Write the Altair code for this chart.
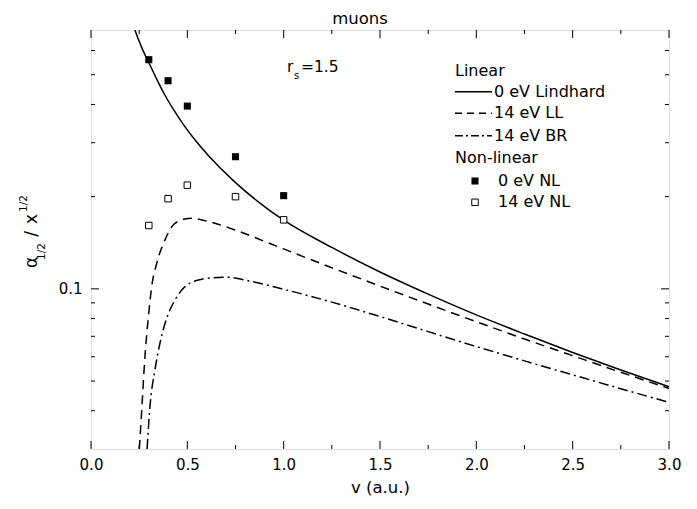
import altair as alt
import pandas as pd

W, H = 578, 419
FONT = "DejaVu Sans"

# ---- data ----
v_lind = [0.228, 0.25, 0.272, 0.303, 0.341, 0.384, 0.427, 0.479, 0.531, 0.609, 0.75, 0.87, 1.0,
          1.25, 1.5, 1.75, 2.0, 2.25, 2.5, 2.75, 3.0]
a_lind = [0.70, 0.643, 0.596, 0.543, 0.484, 0.4286, 0.386, 0.3444, 0.3112, 0.2727, 0.2223, 0.192, 0.1675,
          0.1365, 0.1135, 0.0961, 0.0822, 0.0712, 0.0620, 0.0543, 0.0479]

v_ll = [0.251, 0.263, 0.28, 0.298, 0.315, 0.341, 0.384, 0.427, 0.488, 0.52, 0.592, 0.747, 0.903,
        1.0, 1.25, 1.5, 1.75, 2.0, 2.25, 2.5, 2.75, 3.0]
a_ll = [0.03, 0.0398, 0.0601, 0.0812, 0.1017, 0.121, 0.1445, 0.1617, 0.169, 0.170, 0.167, 0.1557, 0.1427,
        0.1350, 0.1172, 0.1021, 0.0892, 0.0781, 0.0686, 0.0605, 0.0534, 0.0473]

v_br = [0.291, 0.306, 0.332, 0.358, 0.393, 0.436, 0.488, 0.575, 0.695, 0.834, 1.0, 1.25, 1.5,
        1.75, 2.0, 2.25, 2.5, 2.75, 3.0]
a_br = [0.03, 0.0413, 0.0544, 0.0665, 0.0802, 0.092, 0.1017, 0.1075, 0.1092, 0.1057, 0.0997, 0.0905, 0.0812,
        0.0725, 0.0648, 0.0582, 0.0524, 0.0472, 0.0426]

v_nl0 = [0.3, 0.4, 0.5, 0.75, 1.0]
a_nl0 = [0.560, 0.478, 0.395, 0.270, 0.2015]
v_nl14 = [0.3, 0.4, 0.5, 0.75, 1.0]
a_nl14 = [0.161, 0.197, 0.218, 0.200, 0.168]

x_major = [0.0, 0.5, 1.0, 1.5, 2.0, 2.5, 3.0]
x_minor = [0.25, 0.75, 1.25, 1.75, 2.25, 2.75]
y_major = [0.1]
y_minor = [0.04, 0.05, 0.06, 0.07, 0.08, 0.09, 0.2, 0.3, 0.4, 0.5, 0.6]

title_text = ["muons"]
x_title = "v (a.u.)"
y_title_parts = ["\u03b1", "1/2", "/", "x", "1/2"]
rs_parts = ["r", "s", "=1.5"]
legend_head = ["Linear", "Non-linear"]
legend_lines = ["0 eV Lindhard", "14 eV LL", "14 eV BR"]
legend_points = ["0 eV NL", "14 eV NL"]

# ---- encodings ----
X = alt.X("v:Q", scale=alt.Scale(domain=[0, 3], nice=False, zero=False),
          axis=alt.Axis(values=x_major, format=".1f", ticks=False, domain=False, grid=False,
                        labelFlush=False, labelFont=FONT, labelFontSize=15, labelColor="black",
                        labelPadding=8,
                        title=x_title, titleFont=FONT, titleFontSize=16.5, titleFontWeight="normal",
                        titleColor="black", titlePadding=7))
Y = alt.Y("a:Q", scale=alt.Scale(type="log", domain=[0.03, 0.7], nice=False),
          axis=alt.Axis(values=y_major, format=".1f", ticks=False, domain=False, grid=False,
                        labelFlush=False, labelFont=FONT, labelFontSize=15, labelColor="black",
                        labelPadding=9, title=None))

def df(v, a):
    return pd.DataFrame({"v": v, "a": a})

lw = 1.5
lind = alt.Chart(df(v_lind, a_lind)).mark_line(color="black", strokeWidth=lw, clip=True,
                                                interpolate="monotone").encode(x=X, y=Y)
ll = alt.Chart(df(v_ll, a_ll)).mark_line(color="black", strokeWidth=lw, clip=True,
                                          interpolate="monotone", strokeDash=[9, 6]).encode(x=X, y=Y)
br = alt.Chart(df(v_br, a_br)).mark_line(color="black", strokeWidth=lw, clip=True,
                                          interpolate="monotone", strokeDash=[10, 4, 2, 4]).encode(x=X, y=Y)
nl0 = alt.Chart(df(v_nl0, a_nl0)).mark_point(shape="square", filled=True, color="black",
                                             size=50, opacity=1).encode(x=X, y=Y)
nl14 = alt.Chart(df(v_nl14, a_nl14)).mark_point(shape="square", filled=True, fill="white",
                                               stroke="black", strokeWidth=1, size=42,
                                               opacity=1).encode(x=X, y=Y)

# ---- inward ticks ----
def xticks(vals, length):
    d = pd.DataFrame({"v": vals})
    bot = alt.Chart(d).mark_rule(color="black", strokeWidth=1).encode(
        x=X, y=alt.value(H), y2=alt.value(H - length))
    top = alt.Chart(d).mark_rule(color="black", strokeWidth=1).encode(
        x=X, y=alt.value(0), y2=alt.value(length))
    return [bot, top]

def yticks(vals, length):
    d = pd.DataFrame({"a": vals})
    left = alt.Chart(d).mark_rule(color="black", strokeWidth=1).encode(
        y=Y, x=alt.value(0), x2=alt.value(length))
    right = alt.Chart(d).mark_rule(color="black", strokeWidth=1).encode(
        y=Y, x=alt.value(W), x2=alt.value(W - length))
    return [left, right]

ticks = xticks(x_major, 8) + xticks(x_minor, 4) + yticks(y_major, 8) + yticks(y_minor, 4)

# ---- texts ----
def txt(s, x, y, size, angle=0, align="left", baseline="alphabetic"):
    kw = dict(font=FONT, fontSize=size, color="black", align=align, baseline=baseline)
    if angle:
        kw["angle"] = angle
    return alt.Chart(pd.DataFrame({"t": [s]})).mark_text(**kw).encode(
        text="t:N", x=alt.value(x), y=alt.value(y))

texts = [
    txt(title_text[0], 269, -6.5, 16.5, align="center"),
    # y title (rotated, read bottom to top)
    txt(y_title_parts[0], -54, 238, 17, angle=270),
    txt(y_title_parts[1], -46, 230, 10.5, angle=270),
    txt(y_title_parts[2], -54, 204, 17, angle=270, align="center"),
    txt(y_title_parts[3], -54, 189, 17, angle=270, align="center"),
    txt(y_title_parts[4], -64, 182, 10.5, angle=270),
    # r_s annotation
    txt(rs_parts[0], 196, 42, 15.5),
    txt(rs_parts[1], 203, 49, 10),
    txt(rs_parts[2], 210, 42, 15.5),
]

# ---- legend ----
lx0, lx1 = 364, 401
ly = [40.7, 61.7, 83.3, 105.7, 128.3, 151, 172.3]
FS = 16
leg = [txt(legend_head[0], lx0, ly[0], FS, baseline="middle"),
       txt(legend_head[1], lx0, ly[4], FS, baseline="middle")]
dashes = [None, [7, 5], [8, 3, 2, 3]]
for i, (lab, dsh) in enumerate(zip(legend_lines, dashes)):
    kw = dict(color="black", strokeWidth=lw)
    if dsh:
        kw["strokeDash"] = dsh
    leg.append(alt.Chart(pd.DataFrame({"t": [lab]})).mark_rule(**kw).encode(
        x=alt.value(lx0), x2=alt.value(lx1), y=alt.value(ly[i + 1])))
    leg.append(txt(lab, lx1 + 2, ly[i + 1], FS, baseline="middle"))
for i, lab in enumerate(legend_points):
    yy = ly[5 + i]
    if i == 0:
        m = alt.Chart(pd.DataFrame({"t": [lab]})).mark_point(shape="square", filled=True,
                                                            color="black", size=50, opacity=1)
    else:
        m = alt.Chart(pd.DataFrame({"t": [lab]})).mark_point(shape="square", filled=True, fill="white",
                                                            stroke="black", strokeWidth=1, size=42,
                                                            opacity=1)
    leg.append(m.encode(x=alt.value(384), y=alt.value(yy)))
    leg.append(txt(lab, 407, yy, FS, baseline="middle"))

chart = alt.layer(lind, ll, br, nl0, nl14, *ticks, *texts, *leg).properties(
    width=W, height=H,
    autosize=alt.AutoSizeParams(type="none"),
    padding={"left": 83, "top": 22, "right": 20, "bottom": 52},
).configure_view(stroke="black", strokeWidth=1.3).configure(background="white")

chart.save("out.html", embed_options={"renderer": "svg", "actions": False})
